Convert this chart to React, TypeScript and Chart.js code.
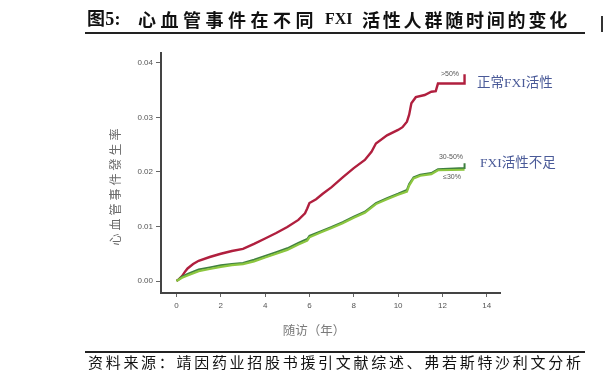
import React, { useEffect, useRef } from "react";
import { Chart, registerables } from "chart.js";

Chart.register(...registerables);

const redX = [0, 0.1, 0.25, 0.4, 0.5, 0.75, 1, 1.5, 2, 2.5, 3, 3.5, 4, 4.5, 5, 5.5, 5.8, 5.9, 6, 6.3, 6.6, 7, 7.5, 8, 8.5, 8.8, 9, 9.5, 10, 10.2, 10.4, 10.5, 10.6, 10.8, 11.2, 11.5, 11.7, 11.8, 13, 13];
const redY = [0, 0.0003, 0.0009, 0.0018, 0.0023, 0.0031, 0.0037, 0.0044, 0.005, 0.0055, 0.0059, 0.0068, 0.0078, 0.0088, 0.0099, 0.0112, 0.0124, 0.0133, 0.0143, 0.015, 0.016, 0.0172, 0.019, 0.0207, 0.0222, 0.0237, 0.0252, 0.0267, 0.0277, 0.0282, 0.0292, 0.0305, 0.0326, 0.0337, 0.0341, 0.0347, 0.0348, 0.0362, 0.0362, 0.0379];

const greenX = [0, 0.25, 0.5, 1, 1.5, 2, 2.5, 3, 3.5, 4, 4.5, 5, 5.5, 5.9, 6, 6.5, 7, 7.5, 8, 8.5, 9, 9.5, 10, 10.4, 10.5, 10.7, 11, 11.5, 11.8, 13, 13];
const greenMidY = [0, 0.0008, 0.0013, 0.0021, 0.0025, 0.0029, 0.0031, 0.0033, 0.0039, 0.0046, 0.0053, 0.006, 0.007, 0.0077, 0.0083, 0.0091, 0.0099, 0.0108, 0.0118, 0.0127, 0.0143, 0.0152, 0.016, 0.0167, 0.0178, 0.019, 0.0195, 0.0198, 0.0205, 0.0207, 0.0216];
const greenLowY = [0, 0.0006, 0.001, 0.0018, 0.0022, 0.0026, 0.0029, 0.0031, 0.0036, 0.0043, 0.005, 0.0057, 0.0067, 0.0074, 0.008, 0.0089, 0.0097, 0.0106, 0.0116, 0.0125, 0.0141, 0.015, 0.0158, 0.0164, 0.0175, 0.0188, 0.0193, 0.0196, 0.0203, 0.0204, 0.0204];

const xTicks = [0, 2, 4, 6, 8, 10, 12, 14];
const yTicks = [0, 0.01, 0.02, 0.03, 0.04];

const seriesNames = [">50%", "30-50%", "≤30%"];
const groupLabels = ["正常FXI活性", "FXI活性不足"];
const xTitle = "随访（年）";
const yTitle = "心血管事件發生率";
const titleParts = ["图5:", "心血管事件在不同", "FXI", "活性人群随时间的变化"];
const sourceText = "资料来源：靖因药业招股书援引文献综述、弗若斯特沙利文分析";

const toPts = (xs: number[], ys: number[]) => xs.map((x, i) => ({ x, y: ys[i] }));

const textPlugin = {
  id: "texts",
  afterDraw(chart: any) {
    const ctx = chart.ctx as CanvasRenderingContext2D;
    ctx.save();
    ctx.fillStyle = "#7a7a7a";
    ctx.font = "12.5px 'Noto Sans CJK SC'";
    ctx.textAlign = "center";
    ctx.textBaseline = "middle";
    ctx.fillText(xTitle, 314, 330);
    ctx.save();
    ctx.translate(115, 187);
    ctx.rotate(-Math.PI / 2);
    ctx.font = "12px 'Noto Sans CJK SC'";
    ctx.fillStyle = "#6a6a6a";
    const chars = Array.from(yTitle);
    const step = 15;
    const start = -((chars.length - 1) * step) / 2;
    chars.forEach((c, i) => ctx.fillText(c, start + i * step, 0));
    ctx.restore();
    ctx.fillStyle = "#555";
    ctx.font = "7px 'Liberation Sans'";
    ctx.textAlign = "center";
    ctx.fillText(seriesNames[0], 450, 74);
    ctx.fillText(seriesNames[1], 451, 157);
    ctx.fillText(seriesNames[2], 452, 177);
    ctx.fillStyle = "#4a5a98";
    ctx.textAlign = "left";
    ctx.font = "13.5px 'Liberation Serif', 'Noto Sans CJK SC'";
    ctx.fillText(groupLabels[0], 477, 83);
    ctx.fillText(groupLabels[1], 480, 163);
    ctx.restore();
  },
};

const titleBase: React.CSSProperties = {
  position: "absolute",
  top: 7,
  fontWeight: "bold",
  fontSize: 18,
  lineHeight: "24px",
  whiteSpace: "pre",
  color: "#111",
};

export default function App() {
  const ref = useRef<HTMLCanvasElement>(null);
  useEffect(() => {
    if (!ref.current) return;
    const tickFont = { family: "'Liberation Sans', Arial", size: 8 };
    const chart = new Chart(ref.current, {
      type: "line",
      data: {
        datasets: [
          { label: seriesNames[2], data: toPts(greenX, greenLowY), borderColor: "#8cc63f", borderWidth: 2.2, pointRadius: 0, tension: 0 },
          { label: seriesNames[1], data: toPts(greenX, greenMidY), borderColor: "#3f8040", borderWidth: 2, pointRadius: 0, tension: 0 },
          { label: seriesNames[0], data: toPts(redX, redY), borderColor: "#b01f3e", borderWidth: 2.4, pointRadius: 0, tension: 0 },
        ],
      },
      options: {
        animation: false,
        responsive: false,
        devicePixelRatio: 1,
        layout: { padding: { left: 0, top: 53, right: 111, bottom: 0 } },
        plugins: { legend: { display: false }, tooltip: { enabled: false }, title: { display: false } },
        scales: {
          x: {
            type: "linear",
            min: -0.7,
            max: 14.6,
            afterFit: (s: any) => { s.height = 93; },
            afterBuildTicks: (s: any) => { s.ticks = xTicks.map((v) => ({ value: v })); },
            grid: { display: true, drawOnChartArea: false, drawTicks: true, tickLength: 4, color: "#666", lineWidth: 1 },
            border: { display: true, color: "#444", width: 2 },
            ticks: { font: tickFont, color: "#555", padding: 4, maxRotation: 0, callback: (v: any) => String(v) },
          },
          y: {
            type: "linear",
            min: -0.0022,
            max: 0.0418,
            afterFit: (s: any) => { s.width = 161; },
            afterBuildTicks: (s: any) => { s.ticks = yTicks.map((v) => ({ value: v })); },
            grid: { display: true, drawOnChartArea: false, drawTicks: true, tickLength: 5, color: "#666", lineWidth: 1 },
            border: { display: true, color: "#444", width: 2 },
            ticks: { font: tickFont, color: "#555", padding: 3, callback: (v: any) => Number(v).toFixed(2) },
          },
        },
      },
      plugins: [textPlugin],
    });
    return () => chart.destroy();
  }, []);

  return (
    <div style={{ position: "fixed", left: 0, top: 0, width: 611, height: 386, background: "#fff", overflow: "hidden" }}>
      <canvas ref={ref} width={611} height={386} style={{ position: "absolute", left: 0, top: 0 }} />
      <div style={{ ...titleBase, left: 87, fontFamily: "'Liberation Serif', 'Noto Sans CJK SC'", letterSpacing: 0.3 }}>{titleParts[0]}</div>
      <div style={{ ...titleBase, left: 138, fontFamily: "'Noto Sans CJK SC'", letterSpacing: 4.5 }}>{titleParts[1]}</div>
      <div style={{ ...titleBase, left: 325, fontFamily: "'Liberation Serif'", fontSize: 16 }}>{titleParts[2]}</div>
      <div style={{ ...titleBase, left: 362, fontFamily: "'Noto Sans CJK SC'", letterSpacing: 2.8 }}>{titleParts[3]}</div>
      <div style={{ position: "absolute", left: 85, top: 32, width: 500, height: 2, background: "#222" }} />
      <div style={{ position: "absolute", left: 601, top: 16, width: 1.5, height: 16, background: "#333" }} />
      <div style={{ position: "absolute", left: 85, top: 351, width: 500, height: 1.5, background: "#222" }} />
      <div
        style={{
          position: "absolute",
          left: 88,
          top: 352,
          fontFamily: "'Noto Sans CJK SC'",
          fontSize: 15,
          letterSpacing: 2.7,
          lineHeight: "20px",
          whiteSpace: "pre",
          color: "#111",
        }}
      >
        {sourceText}
      </div>
    </div>
  );
}
